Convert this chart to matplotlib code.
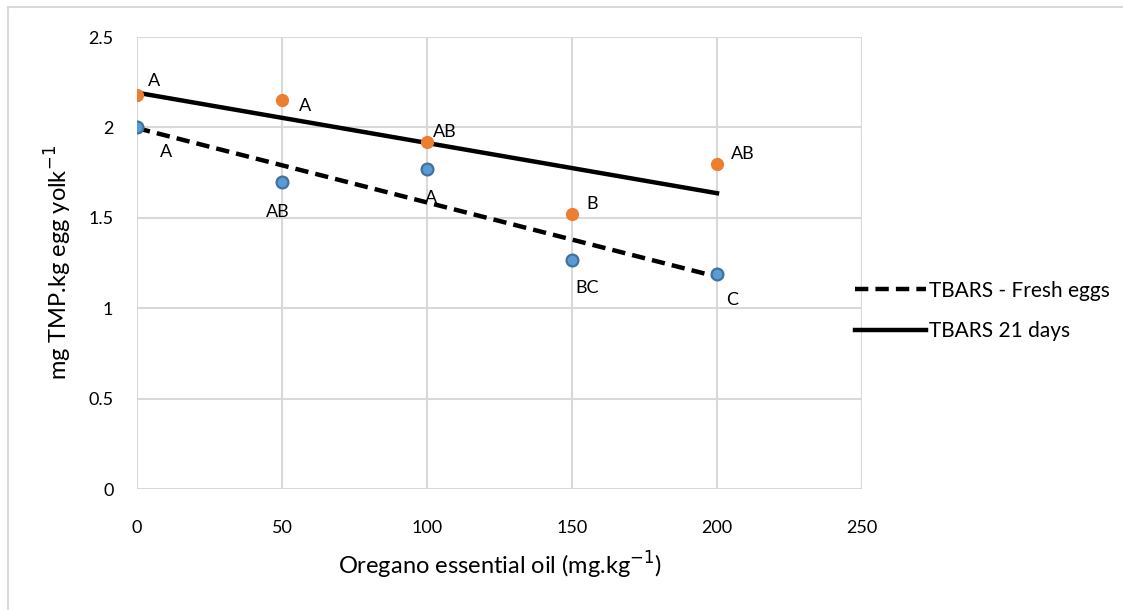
import numpy as np
import matplotlib.pyplot as plt
from matplotlib.patches import Rectangle

plt.rcParams['font.family'] = ['Lato', 'DejaVu Sans']

doses = [0, 50, 100, 150, 200]
tbars_fresh = [2.00, 1.70, 1.77, 1.265, 1.19]
tbars_21d = [2.18, 2.15, 1.92, 1.52, 1.80]
letters_fresh = ["A", "AB", "A", "BC", "C"]
letters_21d = ["A", "A", "AB", "B", "AB"]

fig = plt.figure(figsize=(11.23, 6.10), dpi=100)
ax = fig.add_axes([137 / 1123, 121 / 610, 725 / 1123, 452 / 610])

# outer chart border (only top/left visible in the crop)
fig.patches.append(Rectangle((8 / 1123, -0.1), 1.2, 1.1 - 7 / 610,
                             transform=fig.transFigure, fill=False,
                             edgecolor="#d9d9d9", linewidth=1.5))

x = np.array(doses, dtype=float)

# linear trend lines
p_fresh = np.polyfit(x, tbars_fresh, 1)
p_21 = np.polyfit(x, tbars_21d, 1)
xl = np.array([0, 200])
ax.plot(xl, np.polyval(p_fresh, xl), color="black", linewidth=3.2,
        linestyle=(0, (3, 1.6)), label="TBARS - Fresh eggs", zorder=3)
ax.plot(xl, np.polyval(p_21, xl), color="black", linewidth=3.2,
        label="TBARS 21 days", zorder=3)

ax.plot(x, tbars_fresh, "o", color="#5B9BD5", markeredgecolor="#41719C",
        markeredgewidth=1.6, markersize=8.5, zorder=4)
ax.plot(x, tbars_21d, "o", color="#ED7D31", markeredgecolor="#ED7D31",
        markersize=8.5, zorder=4)

# significance letters
off_21 = [(8, 10), (12, -4), (4, 7), (10, 7), (10, 7)]
off_fresh = [(21, -18), (-3, -22), (3, -21), (11, -20), (11, -19)]
for xi, yi, t, (dx, dy) in zip(x, tbars_21d, letters_21d, off_21):
    ax.annotate(t, (xi, yi), xytext=(dx, dy), textcoords="offset points",
                fontsize=13, ha="left", va="center")
for xi, yi, t, (dx, dy) in zip(x, tbars_fresh, letters_fresh, off_fresh):
    ax.annotate(t, (xi, yi), xytext=(dx, dy), textcoords="offset points",
                fontsize=13, ha="center", va="center")

ax.set_xlim(0, 250)
ax.set_ylim(0, 2.5)
ax.set_xticks([0, 50, 100, 150, 200, 250])
ax.set_yticks([0, 0.5, 1, 1.5, 2, 2.5])
ax.set_yticklabels(["0", "0.5", "1", "1.5", "2", "2.5"])
ax.grid(True, color="#d9d9d9", linewidth=1.5)
ax.set_axisbelow(True)
for s in ax.spines.values():
    s.set_visible(False)
ax.tick_params(length=0, labelsize=13)
ax.tick_params(axis="y", pad=17)
ax.tick_params(axis="x", pad=22)

ax.set_xlabel("Oregano essential oil (mg.kg$^{-1}$)", fontsize=17, labelpad=10)
ax.set_ylabel("mg TMP.kg egg yolk$^{-1}$", fontsize=17, labelpad=10)

ax.legend(loc="center left", bbox_to_anchor=(836 / 1123, 1 - 311 / 610),
          bbox_transform=fig.transFigure, frameon=False, fontsize=15,
          handlelength=3.4, handletextpad=0.15, labelspacing=1.0)

fig.savefig("out.png", dpi=100)
